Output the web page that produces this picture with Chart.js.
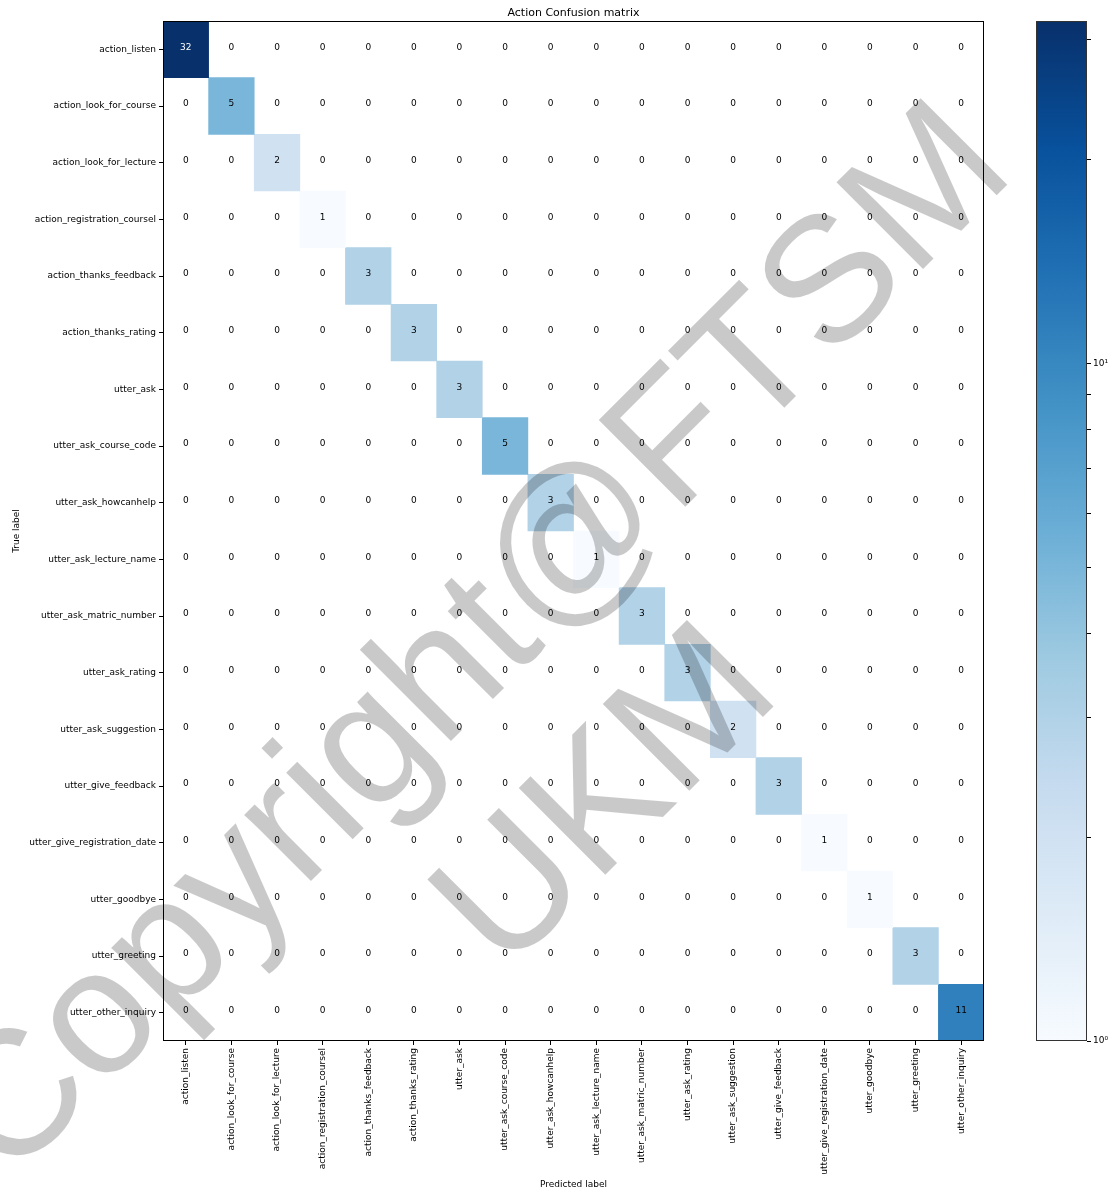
<!DOCTYPE html>
<html>
<head>
<meta charset="utf-8">
<script src="https://cdn.jsdelivr.net/npm/chart.js@4.4.0/dist/chart.umd.min.js"></script>
<style>
  html, body { margin: 0; padding: 0; background: #fff; }
  #wrap { position: relative; width: 1113px; height: 1193px; }
  #cm { position: absolute; left: 0; top: 0; }
  #cbar { position: absolute; left: 1000px; top: 0; }
</style>
</head>
<body>
<div id="wrap">
  <canvas id="cm" width="1113" height="1193"></canvas>
  <canvas id="cbar" width="113" height="1193"></canvas>
</div>
<script>
;(function () {
  var TRUE_LABELS = [
    'action_listen', 'action_look_for_course', 'action_look_for_lecture',
    'action_registration_coursel', 'action_thanks_feedback', 'action_thanks_rating',
    'utter_ask', 'utter_ask_course_code', 'utter_ask_howcanhelp',
    'utter_ask_lecture_name', 'utter_ask_matric_number', 'utter_ask_rating',
    'utter_ask_suggestion', 'utter_give_feedback', 'utter_give_registration_date',
    'utter_goodbye', 'utter_greeting', 'utter_other_inquiry'
  ]
  var PRED_LABELS = TRUE_LABELS.slice()

  // rows = true label, columns = predicted label
  var CM = [
    [32, 0, 0, 0, 0, 0, 0, 0, 0, 0, 0, 0, 0, 0, 0, 0, 0, 0],
    [0, 5, 0, 0, 0, 0, 0, 0, 0, 0, 0, 0, 0, 0, 0, 0, 0, 0],
    [0, 0, 2, 0, 0, 0, 0, 0, 0, 0, 0, 0, 0, 0, 0, 0, 0, 0],
    [0, 0, 0, 1, 0, 0, 0, 0, 0, 0, 0, 0, 0, 0, 0, 0, 0, 0],
    [0, 0, 0, 0, 3, 0, 0, 0, 0, 0, 0, 0, 0, 0, 0, 0, 0, 0],
    [0, 0, 0, 0, 0, 3, 0, 0, 0, 0, 0, 0, 0, 0, 0, 0, 0, 0],
    [0, 0, 0, 0, 0, 0, 3, 0, 0, 0, 0, 0, 0, 0, 0, 0, 0, 0],
    [0, 0, 0, 0, 0, 0, 0, 5, 0, 0, 0, 0, 0, 0, 0, 0, 0, 0],
    [0, 0, 0, 0, 0, 0, 0, 0, 3, 0, 0, 0, 0, 0, 0, 0, 0, 0],
    [0, 0, 0, 0, 0, 0, 0, 0, 0, 1, 0, 0, 0, 0, 0, 0, 0, 0],
    [0, 0, 0, 0, 0, 0, 0, 0, 0, 0, 3, 0, 0, 0, 0, 0, 0, 0],
    [0, 0, 0, 0, 0, 0, 0, 0, 0, 0, 0, 3, 0, 0, 0, 0, 0, 0],
    [0, 0, 0, 0, 0, 0, 0, 0, 0, 0, 0, 0, 2, 0, 0, 0, 0, 0],
    [0, 0, 0, 0, 0, 0, 0, 0, 0, 0, 0, 0, 0, 3, 0, 0, 0, 0],
    [0, 0, 0, 0, 0, 0, 0, 0, 0, 0, 0, 0, 0, 0, 1, 0, 0, 0],
    [0, 0, 0, 0, 0, 0, 0, 0, 0, 0, 0, 0, 0, 0, 0, 1, 0, 0],
    [0, 0, 0, 0, 0, 0, 0, 0, 0, 0, 0, 0, 0, 0, 0, 0, 3, 0],
    [0, 0, 0, 0, 0, 0, 0, 0, 0, 0, 0, 0, 0, 0, 0, 0, 0, 11]
  ]

  // colorbar (log norm)
  var VMIN = 1
  var VMAX = 32
  var CBAR_TICKS = [1, 2, 3, 4, 5, 6, 7, 8, 9, 10, 20, 30]
  var CBAR_LABELS = { 1: '10\u2070', 10: '10\u00b9' }

  // matplotlib "Blues"
  var BLUES = [
    [247, 251, 255], [222, 235, 247], [198, 219, 239], [158, 202, 225], [107, 174, 214],
    [66, 146, 198], [33, 113, 181], [8, 81, 156], [8, 48, 107]
  ]

  function blues(t) {
    t = Math.max(0, Math.min(1, t))
    var f = t * (BLUES.length - 1)
    var i = Math.min(Math.floor(f), BLUES.length - 2)
    var k = f - i
    var a = BLUES[i], b = BLUES[i + 1]
    return 'rgb(' + [0, 1, 2].map(function (j) { return Math.round(a[j] + (b[j] - a[j]) * k) }).join(',') + ')'
  }

  function cellColor(v) {
    if (v <= 0) return 'rgba(0,0,0,0)'   // masked by LogNorm
    return blues(Math.log(v / VMIN) / Math.log(VMAX / VMIN))
  }

  Chart.defaults.font.family = "'DejaVu Sans', sans-serif"
  Chart.defaults.font.size = 9
  Chart.defaults.color = '#000'

  var frame = {
    id: 'frame',
    afterDatasetsDraw(chart, args, opts) {
      var a = chart.chartArea
      var ctx = chart.ctx
      ctx.save()
      ctx.strokeStyle = opts.color || '#000'
      ctx.lineWidth = 1
      ctx.strokeRect(Math.round(a.left) + 0.5, Math.round(a.top) + 0.5,
        Math.round(a.right - a.left) - 1, Math.round(a.bottom - a.top) - 1)
      ctx.restore()
    }
  }

  var cellText = {
    id: 'cellText',
    afterDatasetsDraw(chart) {
      var ctx = chart.ctx
      ctx.save()
      ctx.font = "9px 'DejaVu Sans'"
      ctx.textAlign = 'center'
      ctx.textBaseline = 'middle'
      chart.data.datasets.forEach(function (ds, r) {
        chart.getDatasetMeta(r).data.forEach(function (bar, c) {
          var v = CM[r][c]
          var p = bar.getProps(['x', 'y', 'base'], true)
          ctx.fillStyle = v > VMAX / 2 ? '#fff' : '#000'
          ctx.fillText(String(v), p.x, (p.y + p.base) / 2 - 2)
        })
      })
      ctx.restore()
    }
  }

  var watermark = {
    id: 'watermark',
    afterDraw(chart, args, opts) {
      var ctx = chart.ctx
      ctx.save()
      ctx.fillStyle = opts.color
      ctx.font = opts.size + "px 'Liberation Sans'"
      ctx.textAlign = 'center'
      ctx.textBaseline = 'alphabetic'
      opts.lines.forEach(function (l) {
        ctx.save()
        ctx.translate(l.x, l.y)
        ctx.rotate(-Math.PI / 4)
        ctx.fillText(l.text, 0, 0)
        ctx.restore()
      })
      ctx.restore()
    }
  }

  var datasets = CM.map(function (row, r) {
    return {
      label: TRUE_LABELS[r],
      data: row.map(function () { return [r, r + 1] }),
      backgroundColor: row.map(cellColor),
      borderWidth: 0,
      grouped: false,
      barPercentage: 1,
      categoryPercentage: 1
    }
  })

  new Chart(document.getElementById('cm'), {
    type: 'bar',
    data: { labels: PRED_LABELS, datasets: datasets },
    options: {
      responsive: false,
      animation: false,
      layout: { padding: { left: 7, right: 129, top: 0, bottom: 0 } },
      plugins: {
        legend: { display: false },
        tooltip: { enabled: false },
        title: {
          display: true,
          text: 'Action Confusion matrix',
          fullSize: false,
          color: '#000',
          font: { size: 11, weight: 'normal' },
          padding: { top: 6.4, bottom: 1.4 }
        },
        frame: { color: '#000' },
        watermark: {
          color: 'rgba(0, 0, 0, 0.21)',
          size: 178,
          lines: [
            { text: 'Copyright@FTSM', x: 513, y: 679 },
            { text: 'UKM', x: 644, y: 836 }
          ]
        }
      },
      scales: {
        x: {
          type: 'category',
          offset: true,
          grid: { drawOnChartArea: false, offset: false, tickLength: 4, color: '#000' },
          border: { display: false },
          ticks: { minRotation: 90, maxRotation: 90, autoSkip: false, padding: 3 },
          title: { display: true, text: 'Predicted label', padding: { top: 0, bottom: 3 } },
          afterFit(s) { s.height = 152 }
        },
        y: {
          type: 'linear',
          min: 0,
          max: 18,
          reverse: true,
          grid: { drawOnChartArea: false, tickLength: 4, color: '#000' },
          border: { display: false },
          afterBuildTicks(s) {
            s.ticks = TRUE_LABELS.map(function (_, i) { return { value: i + 0.5 } })
          },
          ticks: {
            autoSkip: false,
            padding: 3,
            callback: function (v, i) { return TRUE_LABELS[i] }
          },
          title: { display: true, text: 'True label', padding: { top: 4, bottom: 0 } },
          afterFit(s) { s.width = 156 }
        }
      }
    },
    plugins: [frame, cellText, watermark]
  })

  new Chart(document.getElementById('cbar'), {
    type: 'bar',
    data: {
      labels: [''],
      datasets: [{
        data: [[VMIN, VMAX]],
        backgroundColor: function (c) {
          var a = c.chart.chartArea
          if (!a) return blues(0.5)
          var g = c.chart.ctx.createLinearGradient(0, a.bottom, 0, a.top)
          BLUES.forEach(function (col, i) {
            g.addColorStop(i / (BLUES.length - 1), 'rgb(' + col.join(',') + ')')
          })
          return g
        },
        borderWidth: 0,
        barPercentage: 1,
        categoryPercentage: 1
      }]
    },
    options: {
      responsive: false,
      animation: false,
      layout: { padding: { left: 36, right: 0, top: 21, bottom: 152 } },
      plugins: {
        legend: { display: false },
        tooltip: { enabled: false },
        frame: { color: '#333' }
      },
      scales: {
        x: { display: false },
        y: {
          type: 'logarithmic',
          position: 'right',
          min: VMIN,
          max: VMAX,
          grid: { drawOnChartArea: false, tickLength: 4, color: '#000' },
          border: { display: false },
          afterBuildTicks(s) {
            s.ticks = CBAR_TICKS.map(function (v) { return { value: v, major: v in CBAR_LABELS } })
          },
          ticks: {
            autoSkip: false,
            padding: 2,
            callback: function (v) { return CBAR_LABELS[v] || '' }
          },
          afterFit(s) { s.width = 26 }
        }
      }
    },
    plugins: [frame]
  })
})()
</script>
</body>
</html>
